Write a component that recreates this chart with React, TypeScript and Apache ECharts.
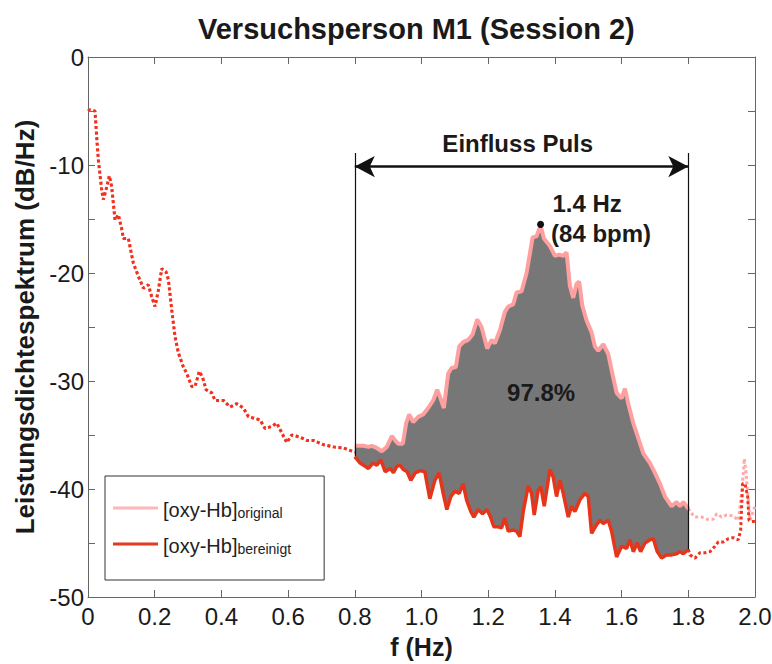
import React, { useEffect, useRef } from 'react';
import * as echarts from 'echarts';

const FONT = '"Liberation Sans", Arial, Helvetica, sans-serif';

// Tick labels
const xTickLabels = ['0', '0.2', '0.4', '0.6', '0.8', '1.0', '1.2', '1.4', '1.6', '1.8', '2.0'];
const yTickLabels = ['-50', '-40', '-30', '-20', '-10', '0'];

// Low-frequency band (0–0.8 Hz): original and cleaned coincide (dotted)
const lowBand: [number, number][] = [
  [0.000, -5.0], [0.006, -4.9], [0.021, -5.0], [0.026, -7.4], [0.031, -9.5], [0.041, -12.3],
  [0.046, -13.2], [0.054, -12.3], [0.064, -11.0], [0.071, -12.0], [0.081, -15.1], [0.091, -14.6],
  [0.101, -15.9], [0.106, -16.8], [0.121, -16.8], [0.136, -19.1], [0.151, -20.3], [0.166, -21.4],
  [0.181, -21.1], [0.191, -22.2], [0.201, -23.1], [0.211, -21.6], [0.221, -19.6], [0.234, -19.9],
  [0.241, -20.6], [0.251, -23.4], [0.261, -25.9], [0.271, -27.4], [0.286, -28.7], [0.296, -29.3],
  [0.311, -30.5], [0.321, -30.5], [0.334, -29.1], [0.344, -29.7], [0.354, -30.8], [0.371, -31.1],
  [0.381, -31.8], [0.406, -31.8], [0.426, -32.4], [0.446, -32.1], [0.466, -32.5], [0.481, -33.3],
  [0.516, -33.6], [0.531, -34.4], [0.551, -34.2], [0.566, -33.9], [0.581, -34.8], [0.596, -35.7],
  [0.611, -35.0], [0.636, -35.2], [0.656, -35.5], [0.676, -35.5], [0.706, -35.9], [0.736, -36.1],
  [0.766, -36.2], [0.800, -36.6],
];

// Pulse band (0.8–1.8 Hz): original signal
const originalMid: [number, number][] = [
  [0.800, -36.0], [0.826, -36.0], [0.841, -36.1], [0.851, -36.0], [0.866, -36.2], [0.881, -36.5],
  [0.896, -36.1], [0.911, -35.1], [0.921, -35.5], [0.930, -35.8], [0.944, -35.8], [0.954, -33.9],
  [0.963, -33.1], [0.975, -33.8], [0.991, -33.3], [1.005, -33.1], [1.020, -32.5], [1.035, -31.8],
  [1.047, -30.8], [1.057, -31.6], [1.067, -32.5], [1.080, -29.3], [1.090, -28.8], [1.103, -28.7],
  [1.113, -26.8], [1.125, -26.4], [1.140, -26.2], [1.153, -25.7], [1.167, -24.3], [1.180, -25.0],
  [1.197, -27.0], [1.210, -26.2], [1.220, -26.5], [1.235, -25.3], [1.250, -23.6], [1.260, -23.1],
  [1.275, -22.9], [1.285, -21.8], [1.300, -21.7], [1.315, -20.0], [1.325, -18.2], [1.333, -16.7],
  [1.345, -16.6], [1.357, -15.6], [1.367, -16.8], [1.385, -17.5], [1.400, -18.4], [1.413, -18.3],
  [1.425, -18.4], [1.435, -18.1], [1.445, -21.2], [1.455, -22.3], [1.465, -21.0], [1.473, -20.8],
  [1.482, -23.0], [1.495, -24.4], [1.510, -25.5], [1.520, -26.8], [1.530, -27.2], [1.545, -26.6],
  [1.560, -27.5], [1.570, -29.0], [1.585, -31.1], [1.600, -31.6], [1.610, -30.7], [1.620, -32.1],
  [1.635, -33.9], [1.650, -35.3], [1.665, -36.7], [1.685, -37.6], [1.700, -38.5], [1.715, -39.5],
  [1.730, -40.7], [1.750, -41.6], [1.765, -41.2], [1.775, -41.6], [1.785, -41.2], [1.800, -41.8],
];

// Pulse band (0.8–1.8 Hz): cleaned signal
const cleanedMid: [number, number][] = [
  [0.800, -37.0], [0.816, -37.6], [0.831, -37.9], [0.841, -38.1], [0.854, -37.6], [0.866, -37.8],
  [0.878, -37.3], [0.891, -38.4], [0.906, -38.1], [0.916, -38.5], [0.926, -37.9], [0.936, -37.8],
  [0.946, -38.2], [0.957, -38.4], [0.968, -39.2], [0.981, -38.5], [0.996, -38.3], [1.010, -38.4],
  [1.025, -40.9], [1.040, -39.2], [1.053, -38.5], [1.065, -40.4], [1.076, -41.9], [1.088, -40.7],
  [1.100, -40.2], [1.113, -40.4], [1.125, -39.5], [1.135, -41.0], [1.148, -42.1], [1.157, -42.6],
  [1.170, -41.9], [1.183, -42.3], [1.196, -41.9], [1.207, -42.6], [1.217, -43.5], [1.230, -43.5],
  [1.240, -43.6], [1.250, -42.7], [1.260, -43.9], [1.275, -43.8], [1.285, -43.9], [1.295, -44.4],
  [1.305, -42.1], [1.320, -39.7], [1.330, -40.4], [1.338, -42.4], [1.350, -40.1], [1.358, -39.8],
  [1.368, -41.6], [1.385, -38.2], [1.395, -38.9], [1.405, -40.7], [1.415, -39.2], [1.425, -40.4],
  [1.440, -42.6], [1.450, -41.6], [1.460, -42.1], [1.475, -41.0], [1.490, -40.4], [1.500, -40.7],
  [1.510, -44.1], [1.525, -43.3], [1.535, -42.9], [1.545, -43.2], [1.560, -42.9], [1.570, -43.9],
  [1.585, -46.3], [1.600, -45.3], [1.615, -45.5], [1.625, -44.7], [1.635, -45.8], [1.647, -45.0],
  [1.657, -45.8], [1.670, -45.0], [1.685, -44.7], [1.695, -44.6], [1.707, -45.8], [1.720, -46.4],
  [1.735, -46.1], [1.750, -46.1], [1.765, -46.0], [1.775, -45.8], [1.785, -46.0], [1.800, -45.6],
];

// High band (1.8–2.0 Hz), dotted
const originalHigh: [number, number][] = [
  [1.800, -41.8], [1.805, -42.1], [1.820, -42.6], [1.840, -42.6], [1.855, -42.8], [1.875, -42.8],
  [1.885, -42.3], [1.900, -42.6], [1.915, -42.4], [1.935, -42.5], [1.950, -42.9], [1.960, -40.4],
  [1.965, -38.5], [1.968, -37.2], [1.973, -38.5], [1.980, -41.0], [1.985, -42.9], [2.000, -41.6],
];
const cleanedHigh: [number, number][] = [
  [1.800, -45.6], [1.805, -46.1], [1.820, -46.4], [1.835, -45.9], [1.850, -45.9], [1.865, -45.8],
  [1.880, -45.3], [1.890, -44.9], [1.905, -44.9], [1.920, -44.6], [1.935, -44.5], [1.950, -44.7],
  [1.957, -43.8], [1.960, -41.6], [1.963, -39.5], [1.970, -39.5], [1.978, -40.7], [1.982, -42.9],
  [1.990, -43.0], [2.000, -43.0],
];

// Annotations
const pulseBand = [0.8, 1.8];
const peakPoint: [number, number] = [1.357, -15.5];
const bandTop = -8.9;
const arrowLevel = -10.15;
const bandBottoms = [-37.0, -45.6];
const notes = [
  { text: 'Einfluss Puls', at: [1.29, -8.05], align: 'center' },
  { text: '1.4 Hz', at: [1.394, -13.65], align: 'left' },
  { text: '(84 bpm)', at: [1.39, -16.35], align: 'left' },
  { text: '97.8%', at: [1.36, -31.1], align: 'center' },
];

const PINK = '#ffa0a0';
const RED = '#e5361c';
const DOT_RED = '#f2301c';
const GRAY_FILL = '#777777';
const AXIS = '#666666';
const TEXT = '#1a1a1a';

export default function App() {
  const ref = useRef<HTMLDivElement>(null);

  useEffect(() => {
    const chart = echarts.init(ref.current!, null, { renderer: 'svg' });

    const axisCommon = {
      type: 'value',
      axisLine: { show: true, onZero: false, lineStyle: { color: AXIS, width: 1 } },
      axisTick: { show: true, inside: true, length: 7, lineStyle: { color: AXIS, width: 1 } },
      splitLine: { show: false },
    };

    const dotted = { type: [3, 2.6], width: 3, cap: 'butt' };

    const option: any = {
      animation: false,
      backgroundColor: '#ffffff',
      title: {
        text: 'Versuchsperson M1 (Session 2)',
        left: 193,
        top: 9,
        textStyle: { fontFamily: FONT, fontSize: 29, fontWeight: 'bold', color: TEXT },
      },
      grid: { left: 88, right: 17, top: 57, bottom: 67, containLabel: false, outerBoundsMode: 'none' },
      xAxis: [
        {
          ...axisCommon,
          position: 'bottom',
          min: 0,
          max: 2,
          interval: 0.2,
          name: 'f (Hz)',
          nameLocation: 'middle',
          nameGap: 37,
          nameTextStyle: { fontFamily: FONT, fontSize: 25, fontWeight: 'bold', color: TEXT },
          axisLabel: {
            margin: 7,
            fontFamily: FONT,
            fontSize: 24,
            color: TEXT,
            formatter: (_v: number, i: number) => xTickLabels[i] ?? '',
          },
        },
        {
          ...axisCommon,
          position: 'top',
          min: 0,
          max: 2,
          interval: 0.2,
          axisLabel: { show: false },
        },
      ],
      yAxis: [
        {
          ...axisCommon,
          position: 'left',
          min: -50,
          max: 0,
          interval: 5,
          name: 'Leistungsdichtespektrum (dB/Hz)',
          nameLocation: 'middle',
          nameGap: 46,
          nameTextStyle: { fontFamily: FONT, fontSize: 26, fontWeight: 'bold', color: TEXT },
          axisLabel: {
            margin: 4,
            fontFamily: FONT,
            fontSize: 24,
            color: TEXT,
            formatter: (v: number) => (yTickLabels.includes(String(v)) ? String(v) : ''),
          },
        },
        {
          ...axisCommon,
          position: 'right',
          min: -50,
          max: 0,
          interval: 5,
          axisLabel: { show: false },
        },
      ],
      legend: {
        left: 105,
        top: 476,
        orient: 'vertical',
        icon: 'rect',
        data: [
          { name: 'original', itemStyle: { color: '#ffb6b6' } },
          { name: 'bereinigt', itemStyle: { color: '#e33a1e' } },
        ],
        itemWidth: 45,
        itemHeight: 3,
        itemGap: 16,
        padding: [24, 33, 24, 8],
        borderColor: '#333333',
        borderWidth: 1,
        backgroundColor: '#ffffff',
        selectedMode: false,
        formatter: (name: string) => `{a|[oxy-Hb]}{b|${name}}`,
        textStyle: {
          rich: {
            a: { fontFamily: FONT, fontSize: 20, lineHeight: 24, verticalAlign: 'bottom', color: '#222' },
            b: { fontFamily: FONT, fontSize: 14, lineHeight: 16, verticalAlign: 'bottom', color: '#222' },
          },
        },
      },
      series: [
        {
          type: 'custom',
          name: 'fill',
          coordinateSystem: 'cartesian2d',
          silent: true,
          z: 1,
          data: [originalMid[0]],
          renderItem: (_p: any, api: any) => {
            const pts = [
              ...originalMid.map((p) => api.coord(p)),
              ...cleanedMid.slice().reverse().map((p) => api.coord(p)),
            ];
            return { type: 'polygon', shape: { points: pts }, style: { fill: GRAY_FILL } };
          },
        },
        {
          type: 'line',
          name: 'original-low',
          data: lowBand,
          symbol: 'none',
          z: 2,
          lineStyle: { ...dotted, color: '#ff9c9c' },
        },
        {
          type: 'line',
          name: 'bereinigt-low',
          data: lowBand,
          symbol: 'none',
          z: 3,
          lineStyle: { ...dotted, color: DOT_RED },
        },
        {
          type: 'line',
          name: 'original-high',
          data: originalHigh,
          symbol: 'none',
          z: 2,
          lineStyle: { ...dotted, color: '#ffaaaa' },
        },
        {
          type: 'line',
          name: 'bereinigt-high',
          data: cleanedHigh,
          symbol: 'none',
          z: 3,
          lineStyle: { ...dotted, color: DOT_RED },
        },
        {
          type: 'line',
          name: 'original',
          data: originalMid,
          symbol: 'none',
          z: 4,
          color: PINK,
          lineStyle: { color: PINK, width: 4 },
        },
        {
          type: 'line',
          name: 'bereinigt',
          data: cleanedMid,
          symbol: 'none',
          z: 5,
          color: RED,
          lineStyle: { color: RED, width: 3.5 },
        },
        {
          type: 'line',
          name: 'band',
          data: [],
          z: 6,
          markLine: {
            silent: true,
            animation: false,
            label: { show: false },
            symbol: 'none',
            lineStyle: { color: '#111', width: 1.2, type: 'solid' },
            data: [
              [{ coord: [pulseBand[0], bandTop] }, { coord: [pulseBand[0], bandBottoms[0]] }],
              [{ coord: [pulseBand[1], bandTop] }, { coord: [pulseBand[1], bandBottoms[1]] }],
              [
                { coord: [pulseBand[0], arrowLevel], symbol: 'arrow', symbolSize: [16, 20], lineStyle: { width: 2.5, color: '#111' } },
                { coord: [pulseBand[1], arrowLevel], symbol: 'arrow', symbolSize: [16, 20] },
              ],
            ],
          },
        },
        {
          type: 'scatter',
          name: 'peak',
          data: [peakPoint],
          symbolSize: 7,
          z: 7,
          itemStyle: { color: '#111', opacity: 1 },
        },
        {
          type: 'scatter',
          name: 'notes',
          z: 8,
          symbolSize: 1,
          silent: true,
          itemStyle: { color: 'rgba(0,0,0,0)', opacity: 1 },
          data: notes.map((n) => ({
            value: n.at,
            label: {
              show: true,
              formatter: n.text,
              position: [0, 0],
              align: n.align,
              verticalAlign: 'middle',
              fontFamily: FONT,
              fontSize: 24,
              fontWeight: 'bold',
              color: TEXT,
              opacity: 1,
            },
          })),
        },
      ],
    };

    chart.setOption(option);
    return () => chart.dispose();
  }, []);

  return (
    <div
      ref={ref}
      style={{ position: 'fixed', left: 0, top: 0, width: 772, height: 664, background: '#fff' }}
    />
  );
}
